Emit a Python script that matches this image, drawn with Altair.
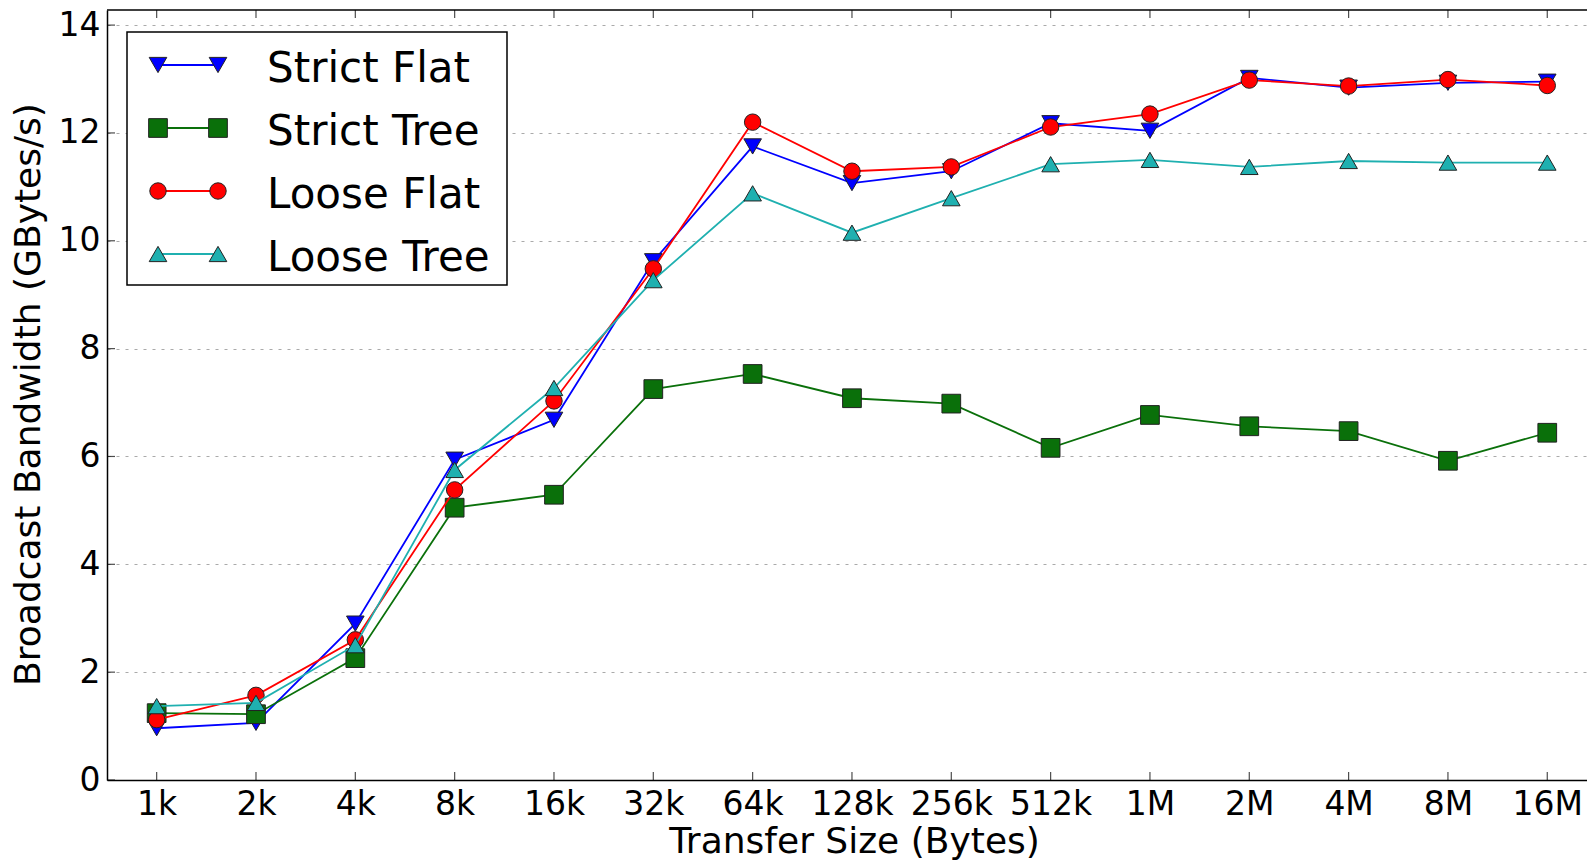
import altair as alt
import pandas as pd

sizes = ["1k", "2k", "4k", "8k", "16k", "32k", "64k", "128k", "256k", "512k",
         "1M", "2M", "4M", "8M", "16M"]
series_names = ["Strict Flat", "Strict Tree", "Loose Flat", "Loose Tree"]
strict_flat = [0.96, 1.06, 2.90, 5.94, 6.68, 9.62, 11.75, 11.07, 11.29, 12.18,
               12.04, 13.02, 12.84, 12.93, 12.95]
strict_tree = [1.24, 1.22, 2.26, 5.05, 5.29, 7.25, 7.53, 7.08, 6.98, 6.16,
               6.77, 6.56, 6.47, 5.92, 6.44]
loose_flat = [1.12, 1.57, 2.60, 5.38, 7.03, 9.48, 12.20, 11.29, 11.37, 12.11,
              12.35, 12.98, 12.87, 12.99, 12.88]
loose_tree = [1.37, 1.43, 2.50, 5.75, 7.27, 9.27, 10.88, 10.15, 10.79, 11.42,
              11.50, 11.37, 11.48, 11.45, 11.45]
y_ticks = [0, 2, 4, 6, 8, 10, 12, 14]

colors = ["#0000ff", "#0a700a", "#ff0000", "#1fb0b0"]
shapes = ["triangle-down", "square", "circle", "triangle-up"]
msizes = [310, 350, 270, 310]

values = [strict_flat, strict_tree, loose_flat, loose_tree]
rows = []
for name, vals in zip(series_names, values):
    for i, (s, v) in enumerate(zip(sizes, vals)):
        rows.append({"i": i, "size": s, "series": name, "value": v})
df = pd.DataFrame(rows)

W, H = 1480, 770
FONT = "DejaVu Sans"

x_scale = alt.Scale(domain=[-0.5, 14.4], nice=False, zero=False)
y_scale = alt.Scale(domain=[0, 14.28], nice=False, zero=False)
color_scale = alt.Scale(domain=series_names, range=colors)
shape_scale = alt.Scale(domain=series_names, range=shapes)

label_expr = "[" + ",".join("'%s'" % s for s in sizes) + "][datum.value]"

x_axis = alt.Axis(values=list(range(len(sizes))), labelExpr=label_expr,
                  title="Transfer Size (Bytes)", grid=False, ticks=False,
                  labelPadding=8, labelOverlap=False, labelFlush=False,
                  titleX=747, titleY=72, titleBaseline="alphabetic",
                  titleAnchor="middle")
y_axis = alt.Axis(values=y_ticks, title="Broadcast Bandwidth (GBytes/s)",
                  grid=True, ticks=False, labelPadding=7, labelOverlap=False,
                  titleX=-68, titleY=384, titleBaseline="alphabetic",
                  titleAngle=-90, titleAnchor="middle")


def X(field):
    return alt.X(field, scale=x_scale, axis=x_axis)


def Y(field):
    return alt.Y(field, scale=y_scale, axis=y_axis)


base = alt.Chart(df)
layers = []

for k, name in enumerate(series_names):
    sub = base.transform_filter(alt.datum.series == name)
    layers.append(
        sub.mark_line(strokeWidth=1.8).encode(
            x=X("i:Q"), y=Y("value:Q"),
            color=alt.Color("series:N", scale=color_scale, legend=None),
        )
    )
    layers.append(
        sub.mark_point(filled=True, opacity=1, stroke="#222222",
                       strokeWidth=1, size=msizes[k]).encode(
            x=X("i:Q"), y=Y("value:Q"),
            color=alt.Color("series:N", scale=color_scale, legend=None),
            shape=alt.Shape("series:N", scale=shape_scale, legend=None),
        )
    )

# inward ticks (matplotlib style)
xt = pd.DataFrame({"i": list(range(len(sizes)))})
yt = pd.DataFrame({"value": y_ticks})
layers.append(
    alt.Chart(xt).mark_tick(orient="vertical", size=8, thickness=1.2,
                            color="black").encode(x=X("i:Q"), y=alt.value(H - 4))
)
layers.append(
    alt.Chart(xt).mark_tick(orient="vertical", size=8, thickness=1.2,
                            color="black").encode(x=X("i:Q"), y=alt.value(4))
)
layers.append(
    alt.Chart(yt).mark_tick(orient="horizontal", size=8, thickness=1.2,
                            color="black").encode(y=Y("value:Q"), x=alt.value(4))
)

# top spine
one = alt.Data(values=[{"a": 1}])
layers.append(
    alt.Chart(one).mark_rule(color="black", strokeWidth=1.5).encode(
        x=alt.value(0), x2=alt.value(W), y=alt.value(0))
)

# legend box
layers.append(
    alt.Chart(one).mark_rect(fill="white", stroke="black", strokeWidth=1.5).encode(
        x=alt.value(20), x2=alt.value(400), y=alt.value(22), y2=alt.value(275))
)
for k, name in enumerate(series_names):
    yc = 55 + 63 * k
    d = alt.Data(values=[{"series": name}])
    layers.append(
        alt.Chart(d).mark_rule(strokeWidth=1.8).encode(
            x=alt.value(51), x2=alt.value(111), y=alt.value(yc),
            color=alt.Color("series:N", scale=color_scale, legend=None))
    )
    for xp in (51, 111):
        layers.append(
            alt.Chart(d).mark_point(filled=True, opacity=1, stroke="#222222",
                                    strokeWidth=1, size=msizes[k]).encode(
                x=alt.value(xp), y=alt.value(yc),
                color=alt.Color("series:N", scale=color_scale, legend=None),
                shape=alt.Shape("series:N", scale=shape_scale, legend=None))
        )
    layers.append(
        alt.Chart(d).mark_text(align="left", baseline="alphabetic", font=FONT,
                               fontSize=42, color="black").encode(
            x=alt.value(160), y=alt.value(yc + 17), text="series:N")
    )

chart = alt.layer(*layers).properties(
    width=W, height=H,
    autosize=alt.AutoSizeParams(type="none"),
    padding={"left": 107, "top": 10, "right": 0, "bottom": 81},
    background="white",
).configure_view(stroke=None).configure_axis(
    domainColor="black", domainWidth=1.5,
    labelFont=FONT, labelFontSize=33, labelColor="black",
    titleFont=FONT, titleFontSize=36, titleFontWeight="normal", titleColor="black",
    gridColor="#aaaaaa", gridDash=[3, 6], gridWidth=1.2,
)

chart.save("out.html", embed_options={"renderer": "svg", "actions": False})
